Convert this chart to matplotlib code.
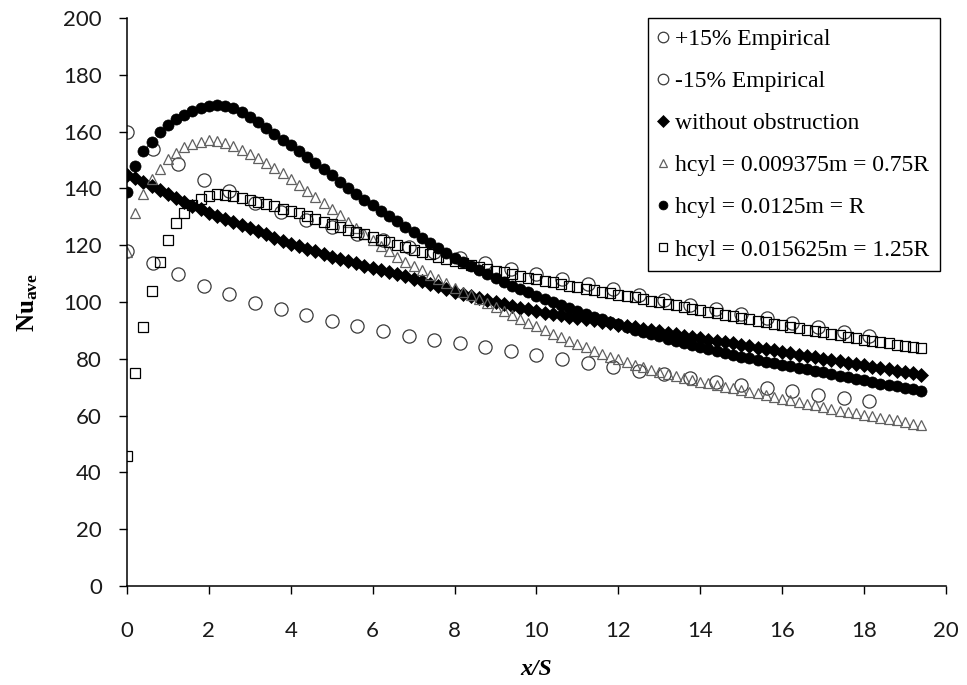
import numpy as np
import matplotlib
matplotlib.use("Agg")
import matplotlib.pyplot as plt

plt.rcParams["mathtext.fontset"] = "custom"
plt.rcParams["mathtext.rm"] = "Liberation Serif"
plt.rcParams["mathtext.bf"] = "Liberation Serif:bold"
plt.rcParams["mathtext.it"] = "Liberation Serif:italic"

# Empirical correlation band, sampled every 0.625 x/S
x_emp = np.round(np.arange(30) * 0.625, 3)
emp_plus15 = [160.0, 153.8, 148.5, 142.8, 139.0, 135.0, 131.8, 129.0, 126.4, 124.1,
              121.7, 119.4, 117.5, 115.6, 113.7, 111.8, 110.0, 108.1, 106.4, 104.5,
              102.6, 100.8, 99.1, 97.4, 95.8, 94.2, 92.7, 91.1, 89.6, 88.0]
emp_minus15 = [118.0, 113.6, 109.7, 105.5, 102.7, 99.7, 97.4, 95.3, 93.4, 91.7,
               89.9, 88.2, 86.8, 85.4, 84.0, 82.6, 81.3, 79.9, 78.6, 77.2,
               75.8, 74.5, 73.2, 72.0, 70.8, 69.6, 68.5, 67.3, 66.2, 65.0]

# Simulation results, sampled every 0.2 x/S from 0 to 19.4
x_sim = np.round(np.arange(98) * 0.2, 1)
nu_no_obstruction = [
    144.7, 143.6, 142.4, 141.0, 139.5, 138.0, 136.5, 135.1, 133.8, 132.6,
    131.5, 130.4, 129.3, 128.2, 127.1, 126.0, 124.9, 123.8, 122.7, 121.6,
    120.6, 119.6, 118.7, 117.8, 116.9, 116.0, 115.2, 114.4, 113.6, 112.8,
    112.1, 111.4, 110.6, 109.8, 109.0, 108.2, 107.3, 106.4, 105.5, 104.6,
    103.7, 102.9, 102.1, 101.3, 100.6, 99.9, 99.2, 98.6, 98.0, 97.4,
    96.8, 96.3, 95.9, 95.4, 94.9, 94.4, 94.0, 93.5, 93.0, 92.5,
    92.0, 91.6, 91.1, 90.6, 90.1, 89.7, 89.2, 88.7, 88.2, 87.7,
    87.3, 86.8, 86.3, 85.8, 85.4, 84.9, 84.4, 83.9, 83.4, 83.0,
    82.5, 82.0, 81.5, 81.1, 80.6, 80.1, 79.6, 79.1, 78.7, 78.2,
    77.7, 77.2, 76.8, 76.3, 75.8, 75.3, 74.9, 74.4]
nu_h075R = [
    117.5, 131.2, 138.0, 143.2, 146.8, 150.2, 152.6, 154.5, 155.6, 156.5,
    157.0, 156.6, 155.9, 154.9, 153.6, 152.2, 150.7, 149.0, 147.2, 145.3,
    143.3, 141.3, 139.2, 137.1, 134.9, 132.7, 130.5, 128.3, 126.1, 124.0,
    121.9, 119.9, 117.9, 116.0, 114.2, 112.8, 111.2, 109.6, 108.1, 106.6,
    105.1, 103.7, 102.3, 100.9, 99.5, 98.1, 96.7, 95.4, 94.0, 92.7,
    91.4, 90.1, 88.8, 87.6, 86.4, 85.2, 84.0, 82.9, 81.8, 80.8,
    79.8, 78.8, 77.9, 77.0, 76.2, 75.4, 74.7, 74.0, 73.3, 72.7,
    72.0, 71.4, 70.8, 70.2, 69.6, 69.0, 68.4, 67.8, 67.2, 66.6,
    66.0, 65.4, 64.8, 64.2, 63.6, 63.0, 62.4, 61.8, 61.3, 60.8,
    60.3, 59.8, 59.3, 58.8, 58.3, 57.7, 57.2, 56.7]
nu_hR = [
    138.8, 148.0, 153.0, 156.5, 159.7, 162.3, 164.3, 165.9, 167.3, 168.4,
    169.1, 169.4, 169.0, 168.2, 166.8, 165.2, 163.4, 161.4, 159.3, 157.2,
    155.2, 153.2, 151.1, 149.0, 146.8, 144.6, 142.4, 140.2, 138.0, 136.0,
    134.0, 132.2, 130.3, 128.4, 126.4, 124.5, 122.6, 120.7, 118.9, 117.2,
    115.6, 114.1, 112.7, 111.3, 110.0, 108.6, 107.2, 105.8, 104.6, 103.4,
    102.2, 101.1, 100.0, 98.9, 97.9, 96.9, 95.9, 94.9, 93.9, 93.0,
    92.1, 91.2, 90.3, 89.5, 88.7, 87.9, 87.1, 86.3, 85.5, 84.8,
    84.1, 83.4, 82.7, 82.0, 81.4, 80.8, 80.2, 79.6, 79.0, 78.5,
    77.9, 77.4, 76.8, 76.3, 75.7, 75.2, 74.6, 74.1, 73.5, 73.0,
    72.4, 71.9, 71.3, 70.8, 70.3, 69.7, 69.2, 68.7]
nu_h125R = [
    45.8, 74.9, 91.3, 103.9, 114.2, 121.8, 127.7, 131.5, 134.2, 136.3,
    137.3, 137.9, 137.8, 137.3, 136.7, 136.0, 135.3, 134.5, 133.7, 132.9,
    132.1, 131.2, 130.3, 129.3, 128.3, 127.3, 126.4, 125.5, 124.6, 123.8,
    123.0, 122.0, 121.1, 120.2, 119.3, 118.4, 117.6, 116.8, 116.0, 115.2,
    114.5, 113.8, 113.1, 112.4, 111.7, 111.0, 110.4, 109.8, 109.2, 108.6,
    108.0, 107.4, 106.9, 106.3, 105.8, 105.2, 104.7, 104.2, 103.7, 103.2,
    102.6, 102.1, 101.6, 101.1, 100.5, 99.9, 99.4, 98.8, 98.3, 97.7,
    97.2, 96.6, 96.1, 95.5, 95.0, 94.4, 93.9, 93.4, 92.9, 92.3,
    91.8, 91.3, 90.8, 90.3, 89.8, 89.3, 88.8, 88.3, 87.8, 87.3,
    86.8, 86.3, 85.9, 85.4, 85.0, 84.6, 84.1, 83.7]

labels = ["+15% Empirical", "-15% Empirical", "without obstruction",
          "hcyl = 0.009375m = 0.75R", "hcyl = 0.0125m = R",
          "hcyl = 0.015625m = 1.25R"]

x_ticks = list(range(0, 21, 2))
y_ticks = list(range(0, 201, 20))

fig = plt.figure(figsize=(9.67, 6.85), dpi=100)
ax = fig.add_axes([0.1313, 0.1445, 0.8470, 0.8292])

ax.plot(x_emp, emp_plus15, linestyle="none", marker="o", ms=9.5,
        mfc="none", mec="#3a3a3a", mew=0.9, label=labels[0])
ax.plot(x_emp, emp_minus15, linestyle="none", marker="o", ms=9.5,
        mfc="none", mec="#3a3a3a", mew=0.9, label=labels[1])
ax.plot(x_sim, nu_no_obstruction, linestyle="none", marker="D", ms=7.2,
        mfc="black", mec="black", mew=0.5, label=labels[2])
ax.plot(x_sim, nu_h075R, linestyle="none", marker="^", ms=7.8,
        mfc="none", mec="#606060", mew=0.9, label=labels[3])
ax.plot(x_sim, nu_hR, linestyle="none", marker="o", ms=8.0,
        mfc="black", mec="black", mew=0.5, label=labels[4])
ax.plot(x_sim, nu_h125R, linestyle="none", marker="s", ms=7.5,
        mfc="none", mec="black", mew=0.9, label=labels[5])

ax.set_xlim(0, 20)
ax.set_ylim(0, 200)
ax.set_xticks(x_ticks)
ax.set_yticks(y_ticks)

for side in ("top", "right"):
    ax.spines[side].set_visible(False)
for side in ("left", "bottom"):
    ax.spines[side].set_linewidth(1.1)
    ax.spines[side].set_color("black")

ax.tick_params(axis="x", direction="out", length=5.5, width=1.0, pad=20)
ax.tick_params(axis="y", direction="out", length=6, width=1.0, pad=12)
for lab in ax.get_xticklabels() + ax.get_yticklabels():
    lab.set_fontfamily("Lato")
    lab.set_fontsize(16)
    lab.set_color("#1a1a1a")

ax.set_xlabel("x/S", family="Liberation Serif", fontsize=17,
              fontweight="bold", style="italic", labelpad=13)
ax.set_ylabel(r"$\mathbf{Nu}_{\mathbf{ave}}$", fontsize=18, labelpad=17)

leg = ax.legend(loc="upper right", bbox_to_anchor=(0.993, 1.0),
                prop={"family": "Liberation Serif", "size": 17},
                frameon=True, fancybox=False, shadow=False,
                edgecolor="black", framealpha=1.0,
                handlelength=0.35, handletextpad=0.35, borderpad=0.45,
                labelspacing=0.87, markerscale=0.8, borderaxespad=0)
leg.get_frame().set_linewidth(1.0)

fig.savefig("out.png", dpi=100)
